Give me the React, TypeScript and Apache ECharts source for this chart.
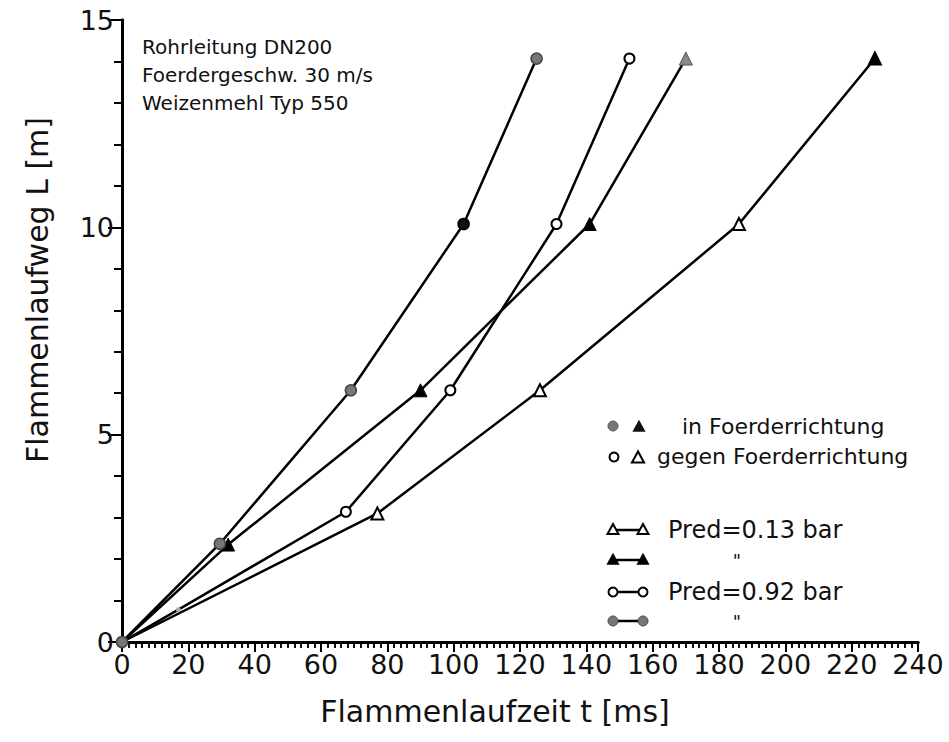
import React, { useEffect, useRef } from "react";
import * as echarts from "echarts";

// Flammenlaufzeit t [ms] / Flammenlaufweg L [m]
const pred013Gegen: number[][] = [[0, 0], [77, 3.1], [126, 6.07], [186, 10.08], [227, 14.07]];
const pred013In: number[][] = [[0, 0], [32, 2.35], [90, 6.07], [141, 10.08], [170, 14.07]];
const pred092Gegen: number[][] = [[0, 0], [17, 0.78], [67.5, 3.14], [99, 6.07], [131, 10.08], [153, 14.07]];
const pred092In: number[][] = [[0, 0], [29.5, 2.37], [69, 6.07], [103, 10.08], [125, 14.07]];

const xMin = 0, xMax = 240, xStep = 20;
const yMin = 0, yMax = 15, yStep = 5;

const infoLines = ["Rohrleitung DN200", "Foerdergeschw. 30 m/s", "Weizenmehl Typ 550"];
const directionLabels = ["in Foerderrichtung", "gegen Foerderrichtung"];
const pressureLabels = ["Pred=0.13 bar", "\"", "Pred=0.92 bar", "\""];

const FONT = "DejaVu Sans";

function tri(cx: number, cy: number, s: number): number[][] {
  return [[cx, cy - s * 0.6], [cx - s * 0.55, cy + s * 0.4], [cx + s * 0.55, cy + s * 0.4]];
}

export default function App() {
  const ref = useRef<HTMLDivElement>(null);
  useEffect(() => {
    document.body.style.margin = "0";
    const chart = echarts.init(ref.current!, null, { renderer: "svg" });
    const lineStyle = { color: "#000", width: 2.5 };
    const openStyle = { color: "#fff", borderColor: "#000", borderWidth: 2 };
    const hideOrigin = (d: number[][]) =>
      d.map((p, i) => (i === 0 ? { value: p, symbolSize: 0 } : { value: p }));

    const s013g = hideOrigin(pred013Gegen) as any[];
    s013g[s013g.length - 1] = { value: pred013Gegen[pred013Gegen.length - 1], itemStyle: { color: "#000", borderColor: "#000" } };
    const s013i = hideOrigin(pred013In) as any[];
    s013i[s013i.length - 1] = { value: pred013In[pred013In.length - 1], itemStyle: { color: "#888", borderColor: "#555" } };
    const s092g = hideOrigin(pred092Gegen) as any[];
    s092g[1] = { value: pred092Gegen[1], symbolSize: 5, itemStyle: { color: "#aaa", borderColor: "#aaa", borderWidth: 0 } };
    const s092i = pred092In.map((p, i) => ({
      value: p,
      itemStyle: i === 3 ? { color: "#111", borderColor: "#000" } : undefined,
    }));

    // legend graphics
    const g: any[] = [];
    infoLines.forEach((t, i) => {
      g.push({ type: "text", left: 142, top: 37 + i * 28, style: { text: t, font: `20px "${FONT}"`, fill: "#111" } });
    });
    // direction legend
    g.push({ type: "circle", shape: { cx: 613, cy: 426, r: 5 }, style: { fill: "#777", stroke: "#555", lineWidth: 1 } });
    g.push({ type: "polygon", shape: { points: tri(639, 427, 12) }, style: { fill: "#111" } });
    g.push({ type: "text", x: 682, y: 426, style: { text: directionLabels[0], font: `22px "${FONT}"`, fill: "#111", verticalAlign: "middle" } });
    g.push({ type: "circle", shape: { cx: 614, cy: 457, r: 4.5 }, style: { fill: "#fff", stroke: "#000", lineWidth: 2 } });
    g.push({ type: "polygon", shape: { points: tri(638, 458, 11) }, style: { fill: "#fff", stroke: "#000", lineWidth: 2 } });
    g.push({ type: "text", x: 657, y: 456, style: { text: directionLabels[1], font: `22px "${FONT}"`, fill: "#111", verticalAlign: "middle" } });
    // pressure legend
    const rows = [
      { y: 530, kind: "triOpen" },
      { y: 560, kind: "triFill" },
      { y: 592, kind: "circOpen" },
      { y: 621, kind: "circFill" },
    ];
    rows.forEach((r, i) => {
      g.push({ type: "line", shape: { x1: 613, y1: r.y, x2: 643, y2: r.y }, style: { stroke: "#000", lineWidth: 2.5 } });
      [613, 643].forEach((cx) => {
        if (r.kind === "triOpen") g.push({ type: "polygon", shape: { points: tri(cx, r.y, 10) }, style: { fill: "#fff", stroke: "#000", lineWidth: 2 } });
        if (r.kind === "triFill") g.push({ type: "polygon", shape: { points: tri(cx, r.y, 12) }, style: { fill: "#000" } });
        if (r.kind === "circOpen") g.push({ type: "circle", shape: { cx, cy: r.y, r: 4.5 }, style: { fill: "#fff", stroke: "#000", lineWidth: 2 } });
        if (r.kind === "circFill") g.push({ type: "circle", shape: { cx, cy: r.y, r: 5 }, style: { fill: "#777", stroke: "#444", lineWidth: 1 } });
      });
      const label = pressureLabels[i];
      if (label === "\"") {
        g.push({ type: "text", x: 737, y: r.y - 9, style: { text: label, font: `18px "${FONT}"`, fill: "#111", align: "center", verticalAlign: "top" } });
      } else {
        g.push({ type: "text", x: 668, y: r.y, style: { text: label, font: `24px "${FONT}"`, fill: "#111", verticalAlign: "middle" } });
      }
    });

    const axisLine = { show: true, lineStyle: { color: "#000", width: 3 } };
    const labelStyle = { color: "#111", fontSize: 27, fontFamily: FONT };

    chart.setOption({
      animation: false,
      backgroundColor: "#fff",
      grid: { left: 122, right: 31, top: 20, bottom: 100, containLabel: false },
      xAxis: [
        {
          type: "value", position: "bottom", min: xMin, max: xMax, interval: xStep,
          axisLine, splitLine: { show: false },
          axisTick: { show: true, inside: false, length: 9, lineStyle: { color: "#000", width: 2 } },
          minorTick: { show: true, splitNumber: 10, length: 6, lineStyle: { color: "#000", width: 1.5 } },
          axisLabel: { ...labelStyle, margin: 9 },
          name: "Flammenlaufzeit t [ms]", nameLocation: "middle", nameGap: 54,
          nameTextStyle: { color: "#111", fontSize: 30, fontFamily: FONT, padding: [0, 50, 0, 0] },
        },
        {
          type: "value", position: "top", min: xMin, max: xMax, interval: xStep,
          axisLine, splitLine: { show: false },
          axisTick: { show: true, inside: true, length: 10, lineStyle: { color: "#000", width: 2 } },
          minorTick: { show: true, splitNumber: 10, length: 6, lineStyle: { color: "#000", width: 1.5 } },
          axisLabel: { show: false },
        },
      ],
      yAxis: [
        {
          type: "value", position: "left", min: yMin, max: yMax, interval: yStep,
          axisLine, splitLine: { show: false },
          axisTick: { show: true, inside: false, length: 14, lineStyle: { color: "#000", width: 2 } },
          minorTick: { show: true, splitNumber: 5, length: 8, lineStyle: { color: "#000", width: 2 } },
          axisLabel: { ...labelStyle, margin: 8 },
          name: "Flammenlaufweg L [m]", nameLocation: "middle", nameGap: 70,
          nameTextStyle: { color: "#111", fontSize: 30, fontFamily: FONT, padding: [0, 0, 0, 82] },
        },
        {
          type: "value", position: "right", min: yMin, max: yMax, interval: yStep,
          axisLine, splitLine: { show: false },
          axisTick: { show: true, inside: true, length: 14, lineStyle: { color: "#000", width: 2 } },
          minorTick: { show: true, splitNumber: 5, length: 8, lineStyle: { color: "#000", width: 2 } },
          axisLabel: { show: false },
        },
      ],
      series: [
        { name: "Pred=0.13 bar gegen Foerderrichtung", type: "line", data: s013g, symbol: "triangle", symbolSize: 12, lineStyle, itemStyle: openStyle, z: 3 },
        { name: "Pred=0.13 bar in Foerderrichtung", type: "line", data: s013i, symbol: "triangle", symbolSize: 13, lineStyle, itemStyle: { color: "#000", borderColor: "#000" }, z: 3 },
        { name: "Pred=0.92 bar gegen Foerderrichtung", type: "line", data: s092g, symbol: "circle", symbolSize: 10, lineStyle, itemStyle: openStyle, z: 3 },
        { name: "Pred=0.92 bar in Foerderrichtung", type: "line", data: s092i, symbol: "circle", symbolSize: 11, lineStyle, itemStyle: { color: "#777", borderColor: "#444", borderWidth: 1.5 }, z: 3 },
      ],
      graphic: g,
    });
    return () => chart.dispose();
  }, []);
  return <div ref={ref} style={{ width: 949, height: 742 }} />;
}
